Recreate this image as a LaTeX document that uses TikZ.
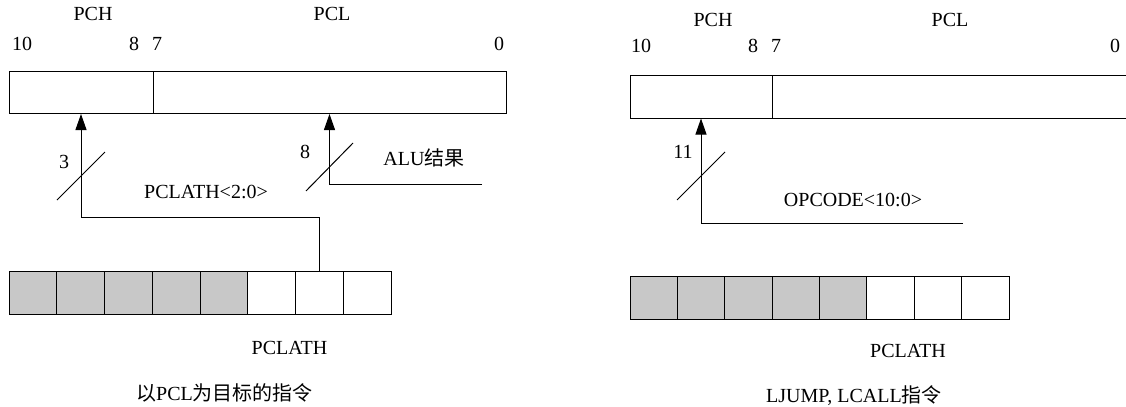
\documentclass[tikz,border=0pt]{standalone}
\usepackage{fontspec}
\setmainfont{Liberation Serif}
\newfontfamily\cjk{Noto Sans CJK SC}
\usetikzlibrary{arrows.meta,calc}
\begin{document}
\begin{tikzpicture}[x=0.5pt,y=-0.5pt,
  lbl/.style={inner sep=0pt,anchor=base,font=\fontsize{10}{12}\selectfont},
  regbox/.style={draw,line width=0.5pt,inner sep=0pt,minimum height=21.25pt},
  cellL/.style={draw,line width=0.5pt,inner sep=0pt,minimum width=23.875pt,minimum height=21.5pt},
  cellR/.style={draw,line width=0.5pt,inner sep=0pt,minimum width=23.6875pt,minimum height=21.5pt},
  shaded/.style={fill={rgb,255:red,200;green,200;blue,200}},
  bus/.style={line width=0.5pt,-{Triangle[length=8pt,width=5.5pt]}},
  slash/.style={line width=0.5pt}]
\useasboundingbox (0,0) rectangle (1126,407);

% ---------------- left diagram ----------------
\node[regbox,minimum width=72pt] (pchL) at (81,92.25) {};
\node[regbox,minimum width=176.5pt] (pclL) at (329.5,92.25) {};
\foreach \i in {1,...,5} \node[cellL,shaded] (c\i) at ({9+(\i-0.5)*47.75},292.5) {};
\foreach \i in {6,...,8} \node[cellL] (c\i) at ({9+(\i-0.5)*47.75},292.5) {};

\node[lbl] (tPCHL) at (93,20) {PCH};
\node[lbl] (tPCLL) at (332,20) {PCL};
\node[lbl] (b10L) at (22,50) {10};
\node[lbl] (b8L) at (134,50) {8};
\node[lbl] (b7L) at (157,50) {7};
\node[lbl] (b0L) at (499,50) {0};

\coordinate (yL) at (0,217);
\draw[bus] (c7.north) |- (pchL.south |- yL) -- (pchL.south);
\draw[slash] (57,200) -- (105,152);
\node[lbl] (n3) at (64,168) {3};

\coordinate (aluEnd) at (482,184.5);
\draw[bus] (aluEnd) -- (pclL.south |- aluEnd) -- (pclL.south);
\draw[slash] (306,191) -- (353,143);
\node[lbl] (n8) at (305,158) {8};
\node[lbl] (tALU) at (424,165) {ALU{\cjk 结果}};
\node[lbl] (tPCLATH20) at (206,198) {PCLATH<2:0>};
\node[lbl] (tPCLATHL) at (289.5,354) {PCLATH};
\node[lbl] (capL) at (224.5,400) {{\cjk 以}PCL{\cjk 为目标的指令}};

% ---------------- right diagram ----------------
\node[regbox,minimum width=71pt] (pchR) at (701,96.75) {};
\node[regbox,minimum width=179pt] (pclR) at (951,96.75) {};
\foreach \i in {1,...,5} \node[cellR,shaded] (d\i) at ({630+(\i-0.5)*47.375},297.5) {};
\foreach \i in {6,...,8} \node[cellR] (d\i) at ({630+(\i-0.5)*47.375},297.5) {};

\node[lbl] (tPCHR) at (713,26) {PCH};
\node[lbl] (tPCLR) at (950,26) {PCL};
\node[lbl] (b10R) at (641,53) {10};
\node[lbl] (b8R) at (753,53) {8};
\node[lbl] (b7R) at (776,53) {7};
\node[lbl] (b0R) at (1115,53) {0};

\coordinate (opEnd) at (963,223);
\draw[bus] (opEnd) -| (pchR.south);
\draw[slash] (677,200) -- (725,152);
\node[lbl] (n11) at (683,158) {11};
\node[lbl] (tOPC) at (853,206) {OPCODE<10:0>};
\node[lbl] (tPCLATHR) at (908,357) {PCLATH};
\node[lbl] (capR) at (854,402) {LJUMP, LCALL{\cjk 指令}};
\end{tikzpicture}
\end{document}
